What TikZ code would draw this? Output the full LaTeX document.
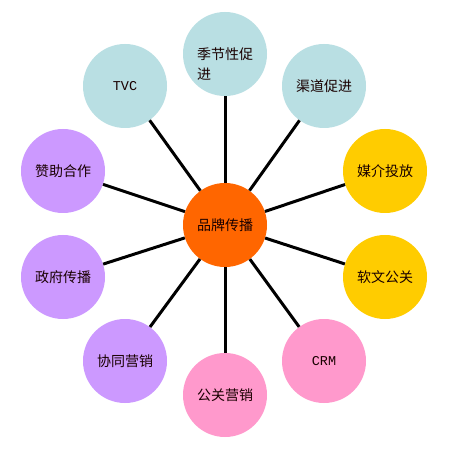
\documentclass[tikz,border=0pt]{standalone}
\usepackage{fontspec}
\setmainfont{Noto Sans CJK SC}
\newfontfamily\latinmono{Liberation Mono}
\definecolor{sky}{HTML}{B9DFE3}
\definecolor{lilac}{HTML}{CC99FF}
\definecolor{sun}{HTML}{FFCC00}
\definecolor{rose}{HTML}{FF99CC}
\definecolor{flame}{HTML}{FF6600}
\newcommand\zh{\fontsize{14}{20}\selectfont}

\begin{document}
\begin{tikzpicture}[x=1pt, y=-1pt,
  bubble/.style={circle, minimum size=84pt, inner sep=0pt, font=\zh, text=black!90!red},
  spoke/.style={line width=3pt}]
\fill[white] (0,0) rectangle (450,449);
\useasboundingbox (0,0) rectangle (450,449);
% hub
\node[bubble, fill=flame] (brand) at (225,225) {品牌传播};
% outer ring
\node[bubble, fill=sky, label={[yshift=-10pt, align=left, font=\zh, text=black!90!red]center:季节性促\\进}] (season) at (225,54) {};
\node[bubble, fill=sky] (channel) at (324,86) {渠道促进};
\node[bubble, fill=sun] (media) at (385,171) {媒介投放};
\node[bubble, fill=sun] (softpr) at (385,277) {软文公关};
\node[bubble, fill=rose, font=\latinmono\fontsize{13.5}{14}\selectfont] (crm) at (324,361) {CRM};
\node[bubble, fill=rose] (prmkt) at (225,395) {公关营销};
\node[bubble, fill=lilac] (coop) at (125,361) {协同营销};
\node[bubble, fill=lilac] (gov) at (63,277) {政府传播};
\node[bubble, fill=lilac] (sponsor) at (63,171) {赞助合作};
\node[bubble, fill=sky, font=\latinmono\fontsize{13.5}{14}\selectfont] (tvc) at (125,86) {TVC};
% spokes
\draw[spoke] (brand) -- (season);
\draw[spoke] (brand) -- (channel);
\draw[spoke] (brand) -- (media);
\draw[spoke] (brand) -- (softpr);
\draw[spoke] (brand) -- (crm);
\draw[spoke] (brand) -- (prmkt);
\draw[spoke] (brand) -- (coop);
\draw[spoke] (brand) -- (gov);
\draw[spoke] (brand) -- (sponsor);
\draw[spoke] (brand) -- (tvc);
\end{tikzpicture}
\end{document}
